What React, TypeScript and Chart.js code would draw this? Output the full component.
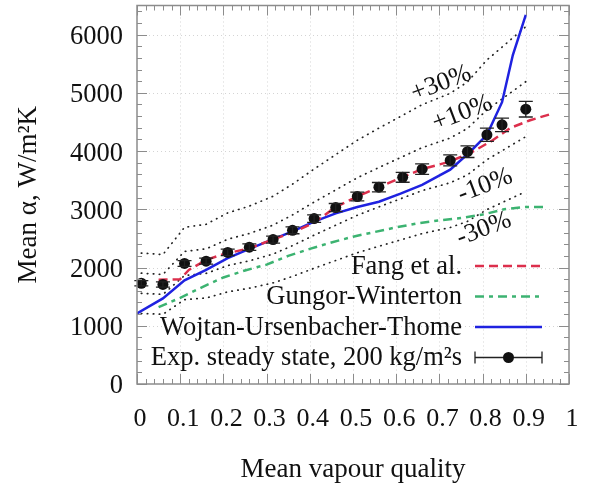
import React, { useEffect, useRef } from 'react';
import { Chart, registerables } from 'chart.js';

Chart.register(...registerables);

const FONT = '"Liberation Serif", "Times New Roman", serif';

// Experimental steady state, 200 kg/m2s
const expX = [0.01, 0.06, 0.11, 0.16, 0.21, 0.26, 0.315, 0.36, 0.41, 0.46, 0.51, 0.56, 0.615, 0.66, 0.725, 0.765, 0.81, 0.845, 0.9];
const expY = [1730, 1710, 2070, 2110, 2260, 2350, 2480, 2640, 2840, 3030, 3220, 3380, 3550, 3690, 3840, 3990, 4280, 4450, 4720];
const expErr = [45, 45, 50, 50, 55, 55, 60, 60, 65, 70, 75, 80, 85, 90, 95, 100, 115, 115, 135];

// Fang et al.
const fangX = [0.05, 0.1, 0.12, 0.16, 0.2, 0.26, 0.31, 0.36, 0.41, 0.46, 0.51, 0.56, 0.61, 0.66, 0.72, 0.77, 0.82, 0.865, 0.91, 0.96];
const fangY = [1790, 1800, 1960, 2130, 2230, 2330, 2470, 2600, 2770, 3040, 3220, 3380, 3540, 3690, 3810, 3960, 4170, 4400, 4530, 4640];

// Gungor-Winterton
const gungorX = [0.05, 0.1, 0.15, 0.2, 0.25, 0.3, 0.35, 0.4, 0.45, 0.5, 0.55, 0.6, 0.65, 0.7, 0.75, 0.8, 0.85, 0.9, 0.94];
const gungorY = [1320, 1480, 1660, 1830, 1950, 2050, 2200, 2320, 2430, 2530, 2610, 2690, 2760, 2810, 2850, 2910, 3000, 3040, 3040];

// Wojtan-Ursenbacher-Thome
const wojtanX = [0, 0.06, 0.11, 0.16, 0.21, 0.26, 0.31, 0.36, 0.41, 0.46, 0.51, 0.56, 0.61, 0.66, 0.725, 0.77, 0.81, 0.845, 0.87, 0.9];
const wojtanY = [1210, 1470, 1780, 1960, 2160, 2320, 2470, 2620, 2790, 2930, 3040, 3130, 3270, 3420, 3680, 3980, 4280, 4840, 5650, 6340];

// deviation bands relative to the experimental values
const bandFactors = [1.3, 1.1, 0.9, 0.7];
const bandLabels = ['+30%', '+10%', '-10%', '-30%'];
const bandLabelX = [0.704, 0.753, 0.806, 0.803];
const bandLabelY = [5160, 4650, 3410, 2660];

const xTicks = [0, 0.1, 0.2, 0.3, 0.4, 0.5, 0.6, 0.7, 0.8, 0.9, 1];
const xTickLabels = ['0', '0.1', '0.2', '0.3', '0.4', '0.5', '0.6', '0.7', '0.8', '0.9', '1'];
const yTicks = [0, 1000, 2000, 3000, 4000, 5000, 6000];
const yTickLabels = ['0', '1000', '2000', '3000', '4000', '5000', '6000'];

const legendLabels = ['Fang et al.', 'Gungor-Winterton', 'Wojtan-Ursenbacher-Thome', 'Exp. steady state, 200 kg/m\u00b2s'];

const RED = '#dc2f4c';
const GREEN = '#3cb371';
const BLUE = '#1f22e0';
const BLACK = '#111111';

const toPts = (xs: number[], ys: number[]) => xs.map((x, i) => ({ x, y: ys[i] }));

const framePlugin = {
  id: 'frame',
  beforeDatasetsDraw(chart: any) {
    const { ctx, chartArea: a, scales } = chart;
    const x = scales.x, y = scales.y;
    ctx.save();
    ctx.strokeStyle = '#d4d4d4';
    ctx.lineWidth = 1;
    ctx.setLineDash([1, 3]);
    xTicks.forEach((v) => {
      if (v <= 0 || v >= 1) return;
      const px = Math.round(x.getPixelForValue(v)) + 0.5;
      ctx.beginPath(); ctx.moveTo(px, a.top); ctx.lineTo(px, a.bottom); ctx.stroke();
    });
    yTicks.forEach((v) => {
      if (v <= 0) return;
      const py = Math.round(y.getPixelForValue(v)) + 0.5;
      ctx.beginPath(); ctx.moveTo(a.left, py); ctx.lineTo(a.right, py); ctx.stroke();
    });
    ctx.restore();
  },
  afterDatasetsDraw(chart: any) {
    const { ctx, chartArea: a, scales } = chart;
    const x = scales.x, y = scales.y;
    ctx.save();
    // error bars
    const meta = chart.getDatasetMeta(0);
    ctx.strokeStyle = '#222';
    ctx.lineWidth = 1.3;
    meta.data.forEach((pt: any, i: number) => {
      const top = y.getPixelForValue(expY[i] + expErr[i]);
      const bot = y.getPixelForValue(expY[i] - expErr[i]);
      const cx = pt.x;
      ctx.beginPath();
      ctx.moveTo(cx, top); ctx.lineTo(cx, bot);
      ctx.moveTo(cx - 7, top); ctx.lineTo(cx + 7, top);
      ctx.moveTo(cx - 7, bot); ctx.lineTo(cx + 7, bot);
      ctx.stroke();
    });

    // frame
    ctx.strokeStyle = '#8c8c8c';
    ctx.lineWidth = 1.5;
    ctx.strokeRect(a.left, a.top, a.right - a.left, a.bottom - a.top);
    ctx.lineWidth = 1;
    // x ticks (major every 0.1, minor every 0.02)
    for (let k = 0; k <= 50; k++) {
      const v = k / 50;
      const len = k % 5 === 0 ? 10 : 5;
      const px = Math.round(x.getPixelForValue(v)) + 0.5;
      ctx.beginPath();
      ctx.moveTo(px, a.bottom); ctx.lineTo(px, a.bottom - len);
      ctx.moveTo(px, a.top); ctx.lineTo(px, a.top + len);
      ctx.stroke();
    }
    for (let k = 0; k <= 32; k++) {
      const v = k * 200;
      const len = k % 5 === 0 ? 10 : 5;
      const py = Math.round(y.getPixelForValue(v)) + 0.5;
      ctx.beginPath();
      ctx.moveTo(a.left, py); ctx.lineTo(a.left + len, py);
      ctx.moveTo(a.right, py); ctx.lineTo(a.right - len, py);
      ctx.stroke();
    }

    // band labels
    ctx.fillStyle = BLACK;
    ctx.font = `26px ${FONT}`;
    ctx.textAlign = 'center';
    ctx.textBaseline = 'middle';
    bandLabels.forEach((t, i) => {
      ctx.save();
      ctx.translate(x.getPixelForValue(bandLabelX[i]), y.getPixelForValue(bandLabelY[i]));
      ctx.rotate(-21 * Math.PI / 180);
      ctx.fillText(t, 0, 0);
      ctx.restore();
    });

    // legend
    const textRight = a.right - 107;
    const s0 = a.right - 94;
    const s1 = a.right - 27;
    legendLabels.forEach((t, i) => {
      const ry = a.bottom - 26.5 - (legendLabels.length - 1 - i) * 30.5;
      ctx.fillStyle = BLACK;
      ctx.textAlign = 'right';
      ctx.textBaseline = 'middle';
      ctx.font = `26.5px ${FONT}`;
      ctx.fillText(t, textRight, ry + 1);
      ctx.save();
      ctx.beginPath();
      if (i === 0) { ctx.strokeStyle = RED; ctx.lineWidth = 2.5; ctx.setLineDash([9, 5]); }
      else if (i === 1) { ctx.strokeStyle = GREEN; ctx.lineWidth = 2.5; ctx.setLineDash([9, 5, 4, 5]); }
      else if (i === 2) { ctx.strokeStyle = BLUE; ctx.lineWidth = 2.5; }
      else { ctx.strokeStyle = '#222'; ctx.lineWidth = 1.3; }
      ctx.moveTo(s0, ry); ctx.lineTo(s1, ry);
      if (i === 3) {
        ctx.moveTo(s0, ry - 6); ctx.lineTo(s0, ry + 6);
        ctx.moveTo(s1, ry - 6); ctx.lineTo(s1, ry + 6);
      }
      ctx.stroke();
      ctx.restore();
      if (i === 3) {
        ctx.fillStyle = BLACK;
        ctx.beginPath();
        ctx.arc((s0 + s1) / 2, ry, 5.5, 0, Math.PI * 2);
        ctx.fill();
      }
    });
    ctx.restore();
  },
};

export default function App() {
  const ref = useRef<HTMLCanvasElement | null>(null);

  useEffect(() => {
    document.body.style.margin = '0';
    const canvas = ref.current;
    if (!canvas) return;
    const bandDatasets = bandFactors.map((f) => ({
      label: 'band',
      data: toPts(expX, expY.map((v) => v * f)),
      borderColor: '#222',
      borderWidth: 1.7,
      borderDash: [0.5, 5.5],
      borderCapStyle: 'round',
      pointRadius: 0,
      fill: false,
      order: 3,
    }));
    const chart = new Chart(canvas, {
      type: 'line',
      data: {
        datasets: [
          {
            label: legendLabels[3],
            data: toPts(expX, expY),
            showLine: false,
            pointRadius: 5.5,
            pointBackgroundColor: BLACK,
            pointBorderColor: BLACK,
            pointBorderWidth: 0,
            order: 0,
          },
          {
            label: legendLabels[0],
            data: toPts(fangX, fangY),
            borderColor: RED,
            borderWidth: 2.5,
            borderDash: [9, 5],
            pointRadius: 0,
            order: 1,
          },
          {
            label: legendLabels[1],
            data: toPts(gungorX, gungorY),
            borderColor: GREEN,
            borderWidth: 2.5,
            borderDash: [9, 5, 4, 5],
            pointRadius: 0,
            order: 2,
          },
          {
            label: legendLabels[2],
            data: toPts(wojtanX, wojtanY),
            borderColor: BLUE,
            borderWidth: 2.5,
            pointRadius: 0,
            order: 1,
          },
          ...bandDatasets,
        ] as any,
      },
      options: {
        responsive: false,
        animation: false,
        devicePixelRatio: 1,
        layout: { padding: { left: 0, right: 22, top: 5, bottom: 0 } },
        plugins: { legend: { display: false }, tooltip: { enabled: false } },
        scales: {
          x: {
            type: 'linear',
            min: 0,
            max: 1,
            grid: { display: false, drawTicks: false },
            border: { display: false },
            afterBuildTicks: (s: any) => { s.ticks = xTicks.map((v) => ({ value: v })); },
            afterFit: (s: any) => { s.height = 103; s.paddingLeft = 0; s.paddingRight = 0; },
            ticks: {
              padding: 20,
              labelOffset: 3,
              color: BLACK,
              font: { family: FONT, size: 26 },
              maxRotation: 0,
              autoSkip: false,
              callback: (_v: any, i: number) => xTickLabels[i],
            },
            title: {
              display: true,
              text: 'Mean vapour quality',
              color: BLACK,
              font: { family: FONT, size: 27 },
              padding: { top: 0, bottom: 1 },
            },
          },
          y: {
            type: 'linear',
            min: 0,
            max: 6500,
            grid: { display: false, drawTicks: false },
            border: { display: false },
            afterBuildTicks: (s: any) => { s.ticks = yTicks.map((v) => ({ value: v })); },
            afterFit: (s: any) => { s.width = 137; s.paddingTop = 0; s.paddingBottom = 0; },
            ticks: {
              padding: 14,
              labelOffset: 2.5,
              color: BLACK,
              font: { family: FONT, size: 26.5 },
              autoSkip: false,
              callback: (_v: any, i: number) => yTickLabels[i],
            },
            title: {
              display: true,
              text: 'Mean \u03b1, W/m\u00b2K',
              color: BLACK,
              font: { family: FONT, size: 27 },
              padding: { top: 13, bottom: 0 },
            },
          },
        },
      } as any,
      plugins: [framePlugin],
    });
    return () => chart.destroy();
  }, []);

  return (
    <div style={{ width: 591, height: 487, background: '#fff' }}>
      <canvas ref={ref} width={591} height={487} />
    </div>
  );
}
